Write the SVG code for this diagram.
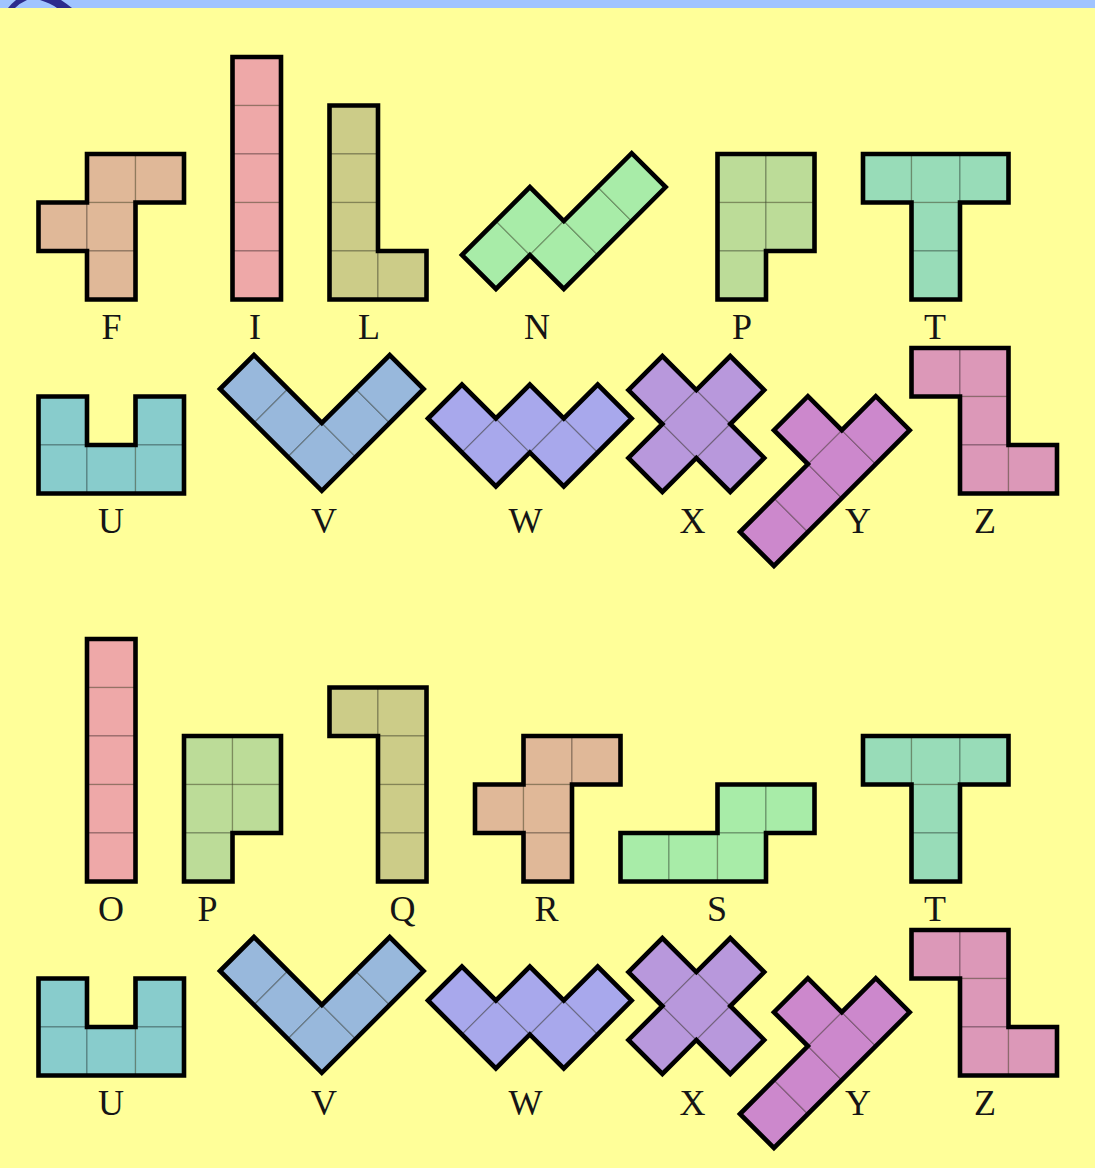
<svg xmlns="http://www.w3.org/2000/svg" width="1095" height="1168" viewBox="0 0 1095 1168">
<style>
.cell{stroke:rgba(0,0,0,0.28);stroke-width:1.3}
.out{fill:none;stroke:#000;stroke-width:4.6;stroke-linejoin:miter}
.lbl{font-family:"Liberation Serif","Times New Roman",serif;font-size:36px;fill:#151515;text-anchor:middle}
.f{fill:#e0b898}.i{fill:#eea8a8}.l{fill:#cccc88}.n{fill:#a8eca8}.p{fill:#bcdc98}.t{fill:#98dcb8}
.u{fill:#88cccc}.v{fill:#98b8dc}.w{fill:#a8a8ec}.x{fill:#b898dc}.y{fill:#cc88cc}.z{fill:#dc98b8}
</style>
<defs>
<rect id="s" width="48.5" height="48.5"/>
<rect id="d" width="48" height="48"/>
</defs>
<rect width="1095" height="1168" fill="#ffff99"/>
<rect width="1095" height="8" fill="#a0c4ff"/>
<path d="M8,8 L15,8 Q20,3 27,0 L16,0 Q11,4 8,8 Z" fill="#2b2b8c"/>
<path d="M40,0 L61,0 Q67,4 72,8 L57,8 Q50,3 40,0 Z" fill="#2b2b8c"/>

<!-- Row 1 -->
<g id="F" class="f">
<use href="#s" class="cell" x="87" y="154"/><use href="#s" class="cell" x="135.5" y="154"/>
<use href="#s" class="cell" x="38.5" y="202.5"/><use href="#s" class="cell" x="87" y="202.5"/>
<use href="#s" class="cell" x="87" y="251"/>
<path class="out" d="M87,154 H184 V202.5 H135.5 V299.5 H87 V251 H38.5 V202.5 H87 Z"/>
<text class="lbl" x="111.5" y="339">F</text>
</g>
<g id="I" class="i">
<use href="#s" class="cell" x="232.5" y="57"/><use href="#s" class="cell" x="232.5" y="105.5"/>
<use href="#s" class="cell" x="232.5" y="154"/><use href="#s" class="cell" x="232.5" y="202.5"/>
<use href="#s" class="cell" x="232.5" y="251"/>
<path class="out" d="M232.5,57 H281 V299.5 H232.5 Z"/>
<text class="lbl" x="255" y="339">I</text>
</g>
<g id="L" class="l">
<use href="#s" class="cell" x="329.5" y="105.5"/><use href="#s" class="cell" x="329.5" y="154"/>
<use href="#s" class="cell" x="329.5" y="202.5"/><use href="#s" class="cell" x="329.5" y="251"/>
<use href="#s" class="cell" x="378" y="251"/>
<path class="out" d="M329.5,105.5 H378 V251 H426.5 V299.5 H329.5 Z"/>
<text class="lbl" x="369" y="339">L</text>
</g>
<g id="N" class="n">
<g transform="translate(462,255) rotate(-45)">
<use href="#d" class="cell" x="0" y="0"/><use href="#d" class="cell" x="48" y="0"/>
<use href="#d" class="cell" x="48" y="48"/><use href="#d" class="cell" x="96" y="48"/>
<use href="#d" class="cell" x="144" y="48"/>
<path class="out" d="M0,0 H96 V48 H192 V96 H48 V48 H0 Z"/>
</g>
<text class="lbl" x="537" y="339">N</text>
</g>
<g id="P" class="p">
<use href="#s" class="cell" x="717.5" y="154"/><use href="#s" class="cell" x="766" y="154"/>
<use href="#s" class="cell" x="717.5" y="202.5"/><use href="#s" class="cell" x="766" y="202.5"/>
<use href="#s" class="cell" x="717.5" y="251"/>
<path class="out" d="M717.5,154 H814.5 V251 H766 V299.5 H717.5 Z"/>
<text class="lbl" x="742" y="339">P</text>
</g>
<g id="T" class="t">
<use href="#s" class="cell" x="863" y="154"/><use href="#s" class="cell" x="911.5" y="154"/>
<use href="#s" class="cell" x="960" y="154"/><use href="#s" class="cell" x="911.5" y="202.5"/>
<use href="#s" class="cell" x="911.5" y="251"/>
<path class="out" d="M863,154 H1008.5 V202.5 H960 V299.5 H911.5 V202.5 H863 Z"/>
<text class="lbl" x="935" y="339">T</text>
</g>

<!-- Row 2 -->
<g id="U" class="u">
<use href="#s" class="cell" x="38.5" y="396.5"/><use href="#s" class="cell" x="135.5" y="396.5"/>
<use href="#s" class="cell" x="38.5" y="445"/><use href="#s" class="cell" x="87" y="445"/>
<use href="#s" class="cell" x="135.5" y="445"/>
<path class="out" d="M38.5,396.5 H87 V445 H135.5 V396.5 H184 V493.5 H38.5 Z"/>
<text class="lbl" x="111" y="533">U</text>
</g>
<g id="V" class="v">
<g transform="translate(220,389) rotate(-45)">
<use href="#d" class="cell" x="0" y="0"/><use href="#d" class="cell" x="0" y="48"/>
<use href="#d" class="cell" x="0" y="96"/><use href="#d" class="cell" x="48" y="96"/>
<use href="#d" class="cell" x="96" y="96"/>
<path class="out" d="M0,0 H48 V96 H144 V144 H0 Z"/>
</g>
<text class="lbl" x="324" y="533">V</text>
</g>
<g id="W" class="w">
<g transform="translate(428,418.5) rotate(-45)">
<use href="#d" class="cell" x="0" y="0"/><use href="#d" class="cell" x="0" y="48"/>
<use href="#d" class="cell" x="48" y="48"/><use href="#d" class="cell" x="48" y="96"/>
<use href="#d" class="cell" x="96" y="96"/>
<path class="out" d="M0,0 H48 V48 H96 V96 H144 V144 H48 V96 H0 Z"/>
</g>
<text class="lbl" x="525.5" y="533">W</text>
</g>
<g id="X" class="x">
<g transform="translate(594.5,424) rotate(-45)">
<use href="#d" class="cell" x="48" y="0"/><use href="#d" class="cell" x="0" y="48"/>
<use href="#d" class="cell" x="48" y="48"/><use href="#d" class="cell" x="96" y="48"/>
<use href="#d" class="cell" x="48" y="96"/>
<path class="out" d="M48,0 H96 V48 H144 V96 H96 V144 H48 V96 H0 V48 H48 Z"/>
</g>
<text class="lbl" x="692.5" y="533">X</text>
</g>
<g id="Y" class="y">
<g transform="translate(740,532) rotate(-45)">
<use href="#d" class="cell" x="0" y="0"/><use href="#d" class="cell" x="48" y="0"/>
<use href="#d" class="cell" x="96" y="0"/><use href="#d" class="cell" x="144" y="0"/>
<use href="#d" class="cell" x="96" y="-48"/>
<path class="out" d="M0,0 H96 V-48 H144 V0 H192 V48 H0 Z"/>
</g>
<text class="lbl" x="858" y="533">Y</text>
</g>
<g id="Z" class="z">
<use href="#s" class="cell" x="911.5" y="348"/><use href="#s" class="cell" x="960" y="348"/>
<use href="#s" class="cell" x="960" y="396.5"/><use href="#s" class="cell" x="960" y="445"/>
<use href="#s" class="cell" x="1008.5" y="445"/>
<path class="out" d="M911.5,348 H1008.5 V445 H1057 V493.5 H960 V396.5 H911.5 Z"/>
<text class="lbl" x="985" y="533">Z</text>
</g>

<!-- Row 3 -->
<g id="O" class="i">
<use href="#s" class="cell" x="87" y="639"/><use href="#s" class="cell" x="87" y="687.5"/>
<use href="#s" class="cell" x="87" y="736"/><use href="#s" class="cell" x="87" y="784.5"/>
<use href="#s" class="cell" x="87" y="833"/>
<path class="out" d="M87,639 H135.5 V881.5 H87 Z"/>
<text class="lbl" x="111" y="921">O</text>
</g>
<g id="P2" class="p">
<use href="#s" class="cell" x="184" y="736"/><use href="#s" class="cell" x="232.5" y="736"/>
<use href="#s" class="cell" x="184" y="784.5"/><use href="#s" class="cell" x="232.5" y="784.5"/>
<use href="#s" class="cell" x="184" y="833"/>
<path class="out" d="M184,736 H281 V833 H232.5 V881.5 H184 Z"/>
<text class="lbl" x="207.5" y="921">P</text>
</g>
<g id="Q" class="l">
<use href="#s" class="cell" x="329.5" y="687.5"/><use href="#s" class="cell" x="378" y="687.5"/>
<use href="#s" class="cell" x="378" y="736"/><use href="#s" class="cell" x="378" y="784.5"/>
<use href="#s" class="cell" x="378" y="833"/>
<path class="out" d="M329.5,687.5 H426.5 V881.5 H378 V736 H329.5 Z"/>
<text class="lbl" x="402.5" y="921">Q</text>
</g>
<g id="R" class="f">
<use href="#s" class="cell" x="523.5" y="736"/><use href="#s" class="cell" x="572" y="736"/>
<use href="#s" class="cell" x="475" y="784.5"/><use href="#s" class="cell" x="523.5" y="784.5"/>
<use href="#s" class="cell" x="523.5" y="833"/>
<path class="out" d="M523.5,736 H620.5 V784.5 H572 V881.5 H523.5 V833 H475 V784.5 H523.5 Z"/>
<text class="lbl" x="546.5" y="921">R</text>
</g>
<g id="S" class="n">
<use href="#s" class="cell" x="717.5" y="784.5"/><use href="#s" class="cell" x="766" y="784.5"/>
<use href="#s" class="cell" x="620.5" y="833"/><use href="#s" class="cell" x="669" y="833"/>
<use href="#s" class="cell" x="717.5" y="833"/>
<path class="out" d="M717.5,784.5 H814.5 V833 H766 V881.5 H620.5 V833 H717.5 Z"/>
<text class="lbl" x="717" y="921">S</text>
</g>
<g id="T2" class="t">
<use href="#s" class="cell" x="863" y="736"/><use href="#s" class="cell" x="911.5" y="736"/>
<use href="#s" class="cell" x="960" y="736"/><use href="#s" class="cell" x="911.5" y="784.5"/>
<use href="#s" class="cell" x="911.5" y="833"/>
<path class="out" d="M863,736 H1008.5 V784.5 H960 V881.5 H911.5 V784.5 H863 Z"/>
<text class="lbl" x="935" y="921">T</text>
</g>

<!-- Row 4 -->
<g id="U2" class="u">
<use href="#s" class="cell" x="38.5" y="978.5"/><use href="#s" class="cell" x="135.5" y="978.5"/>
<use href="#s" class="cell" x="38.5" y="1027"/><use href="#s" class="cell" x="87" y="1027"/>
<use href="#s" class="cell" x="135.5" y="1027"/>
<path class="out" d="M38.5,978.5 H87 V1027 H135.5 V978.5 H184 V1075.5 H38.5 Z"/>
<text class="lbl" x="111" y="1115">U</text>
</g>
<g id="V2" class="v">
<g transform="translate(220,971) rotate(-45)">
<use href="#d" class="cell" x="0" y="0"/><use href="#d" class="cell" x="0" y="48"/>
<use href="#d" class="cell" x="0" y="96"/><use href="#d" class="cell" x="48" y="96"/>
<use href="#d" class="cell" x="96" y="96"/>
<path class="out" d="M0,0 H48 V96 H144 V144 H0 Z"/>
</g>
<text class="lbl" x="324" y="1115">V</text>
</g>
<g id="W2" class="w">
<g transform="translate(428,1000.5) rotate(-45)">
<use href="#d" class="cell" x="0" y="0"/><use href="#d" class="cell" x="0" y="48"/>
<use href="#d" class="cell" x="48" y="48"/><use href="#d" class="cell" x="48" y="96"/>
<use href="#d" class="cell" x="96" y="96"/>
<path class="out" d="M0,0 H48 V48 H96 V96 H144 V144 H48 V96 H0 Z"/>
</g>
<text class="lbl" x="525.5" y="1115">W</text>
</g>
<g id="X2" class="x">
<g transform="translate(594.5,1006) rotate(-45)">
<use href="#d" class="cell" x="48" y="0"/><use href="#d" class="cell" x="0" y="48"/>
<use href="#d" class="cell" x="48" y="48"/><use href="#d" class="cell" x="96" y="48"/>
<use href="#d" class="cell" x="48" y="96"/>
<path class="out" d="M48,0 H96 V48 H144 V96 H96 V144 H48 V96 H0 V48 H48 Z"/>
</g>
<text class="lbl" x="692.5" y="1115">X</text>
</g>
<g id="Y2" class="y">
<g transform="translate(740,1114) rotate(-45)">
<use href="#d" class="cell" x="0" y="0"/><use href="#d" class="cell" x="48" y="0"/>
<use href="#d" class="cell" x="96" y="0"/><use href="#d" class="cell" x="144" y="0"/>
<use href="#d" class="cell" x="96" y="-48"/>
<path class="out" d="M0,0 H96 V-48 H144 V0 H192 V48 H0 Z"/>
</g>
<text class="lbl" x="858" y="1115">Y</text>
</g>
<g id="Z2" class="z">
<use href="#s" class="cell" x="911.5" y="930"/><use href="#s" class="cell" x="960" y="930"/>
<use href="#s" class="cell" x="960" y="978.5"/><use href="#s" class="cell" x="960" y="1027"/>
<use href="#s" class="cell" x="1008.5" y="1027"/>
<path class="out" d="M911.5,930 H1008.5 V1027 H1057 V1075.5 H960 V978.5 H911.5 Z"/>
<text class="lbl" x="985" y="1115">Z</text>
</g>
</svg>
